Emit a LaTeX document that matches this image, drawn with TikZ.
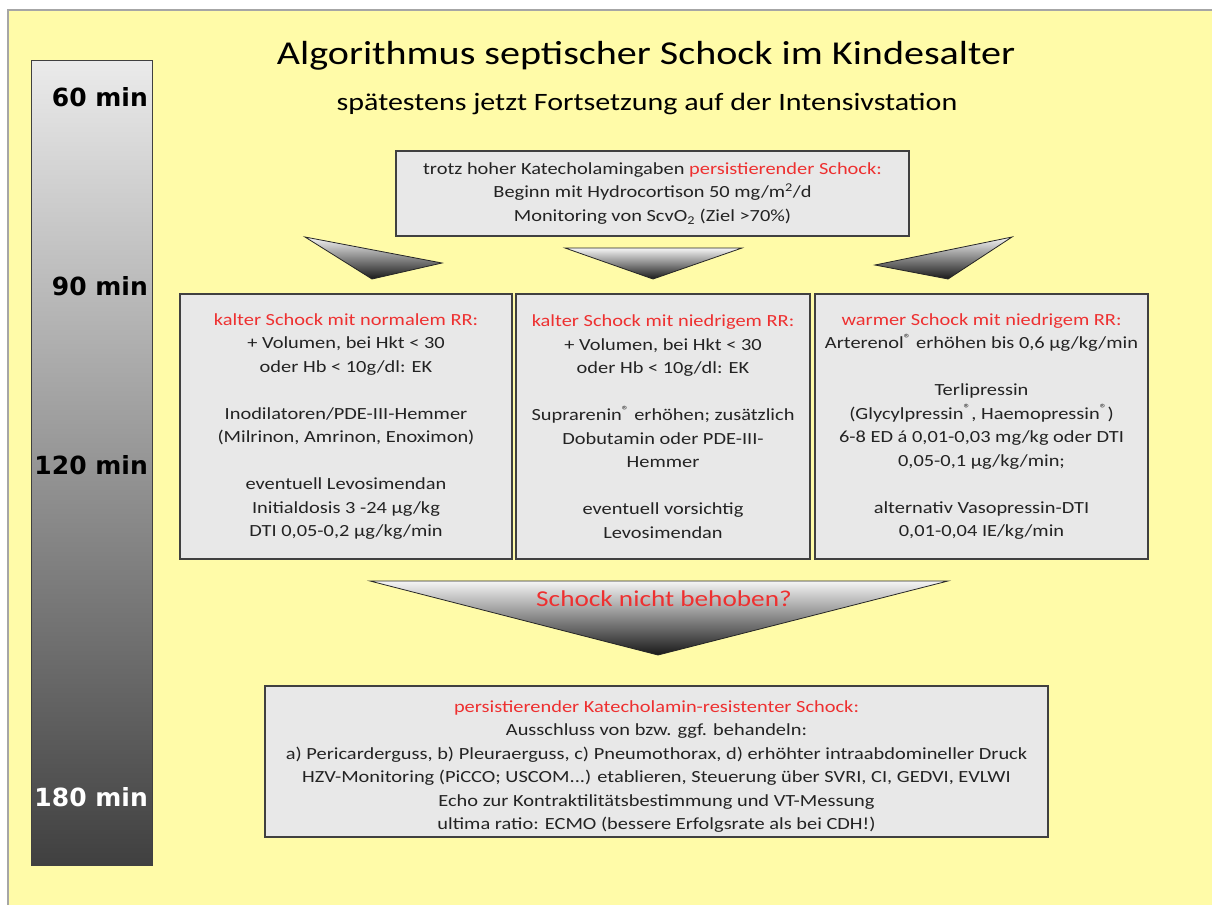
\documentclass[tikz,border=0pt]{standalone}
\usepackage{fontspec}
\setmainfont{Carlito}[FakeStretch=1.2]
\newfontfamily\minfont{DejaVu Sans}
\usetikzlibrary{shadows}
\definecolor{bgyellow}{RGB}{255,251,168}
\definecolor{boxgray}{RGB}{232,232,232}
\definecolor{alarm}{RGB}{238,48,48}
\definecolor{txtgray}{RGB}{35,35,35}
\newcommand{\rd}[1]{\textcolor{alarm}{#1}}
\newcommand{\regm}{\textsuperscript{\textregistered}}
\tikzset{
  box/.style={draw=black!75, line width=1.2pt, fill=boxgray, align=center,
    font=\fontsize{17}{23.5}\selectfont, text=txtgray, inner sep=0pt,
    drop shadow={shadow xshift=1.3pt, shadow yshift=-1.3pt, opacity=0.45, fill=black}},
  arrowtri/.style={draw=black!85, line width=0.8pt, top color=gray!8, bottom color=black!90},
  minlabel/.style={anchor=east, font=\minfont\bfseries\fontsize{25}{28}\selectfont, inner sep=0pt},
  timebar/.style={draw=black!75, line width=1.2pt, top color=black!8, bottom color=black!75,
    minimum width=121pt, minimum height=805pt, anchor=north west, inner sep=0pt},
  titlestyle/.style={font=\fontsize{33.4}{40}\selectfont, inner sep=0pt},
  subtitlestyle/.style={font=\fontsize{25}{30}\selectfont, inner sep=0pt}
}
\begin{document}
\begin{tikzpicture}[x=1pt,y=-1pt]
\useasboundingbox (0,0) rectangle (1212,905);
\fill[white] (0,0) rectangle (1212,905);
\fill[bgyellow] (8,10) rectangle (1212,905);
\draw[gray!70, line width=1.5pt] (8,905) -- (8,10) -- (1212,10);

% time bar
\node[timebar] (bar) at (31,60) {};
\node[minlabel] (m60) at (148,97) {60 min};
\node[minlabel] (m90) at (148,286) {90 min};
\node[minlabel] (m120) at (148,465) {120 min};
\node[minlabel, text=white] (m180) at (148,797) {180 min};

% title
\node[titlestyle] (title) at (646,56) {Algorithmus septischer Schock im Kindesalter};
\node[subtitlestyle] (subtitle) at (647,104) {spätestens jetzt Fortsetzung auf der Intensivstation};

% top box
\node[box, minimum width=513pt, minimum height=85pt] (topbox) at (652.5,193.5)
 {trotz hoher Katecholamingaben \rd{persistierender Schock:}\\
  Beginn mit Hydrocortison 50 mg/m\textsuperscript{2}/d\\
  Monitoring von ScvO\textsubscript{2} (Ziel >70\%)};

% arrow triangles
\path[arrowtri] (305,237) -- (442,263) -- (372,279) -- cycle;
\path[arrowtri] (565,248) -- (742,248) -- (653,279) -- cycle;
\path[arrowtri] (875,265) -- (1012,237) -- (948,279) -- cycle;

% three boxes
\node[box, minimum width=332pt, minimum height=265pt] (cold1) at (346,426.5)
 {\rd{kalter Schock mit normalem RR:}\\
  + Volumen, bei Hkt < 30\\
  oder Hb < 10g/dl: EK\\[23.5pt]
  Inodilatoren/PDE-III-Hemmer\\
  (Milrinon, Amrinon, Enoximon)\\[23.5pt]
  eventuell Levosimendan\\
  Initialdosis 3 -24 µg/kg\\
  DTI 0,05-0,2 µg/kg/min};
\node[box, minimum width=294pt, minimum height=265pt] (cold2) at (663,426.5)
 {\rd{kalter Schock mit niedrigem RR:}\\
  + Volumen, bei Hkt < 30\\
  oder Hb < 10g/dl: EK\\[23.5pt]
  Suprarenin\regm{} erhöhen; zusätzlich\\
  Dobutamin oder PDE-III-\\
  Hemmer\\[23.5pt]
  eventuell vorsichtig\\
  Levosimendan};
\node[box, minimum width=333pt, minimum height=265pt] (warm) at (981.5,426.5)
 {\rd{warmer Schock mit niedrigem RR:}\\
  Arterenol\regm{} erhöhen bis 0,6 µg/kg/min\\[23.5pt]
  Terlipressin\\
  (Glycylpressin\regm, Haemopressin\regm)\\
  6-8 ED á 0,01-0,03 mg/kg oder DTI\\
  0,05-0,1 µg/kg/min;\\[23.5pt]
  alternativ Vasopressin-DTI\\
  0,01-0,04 IE/kg/min};

% big triangle
\path[arrowtri] (370,581) -- (948,581) -- (658,655) -- cycle;
\node[font=\fontsize{22.7}{28}\selectfont, text=alarm, inner sep=0pt] (notfixed) at (664,599) {Schock nicht behoben?};

% bottom box
\node[box, minimum width=783pt, minimum height=151pt] (resist) at (656.5,761.5)
 {\rule{0pt}{22pt}\rd{persistierender Katecholamin-resistenter Schock:}\\
  Ausschluss von bzw. ggf. behandeln:\\
  a) Pericarderguss, b) Pleuraerguss, c) Pneumothorax, d) erhöhter intraabdomineller Druck\\
  HZV-Monitoring (PiCCO; USCOM...) etablieren, Steuerung über SVRI, CI, GEDVI, EVLWI\\
  Echo zur Kontraktilitätsbestimmung und VT-Messung\\
  ultima ratio: ECMO (bessere Erfolgsrate als bei CDH!)};
\end{tikzpicture}
\end{document}
